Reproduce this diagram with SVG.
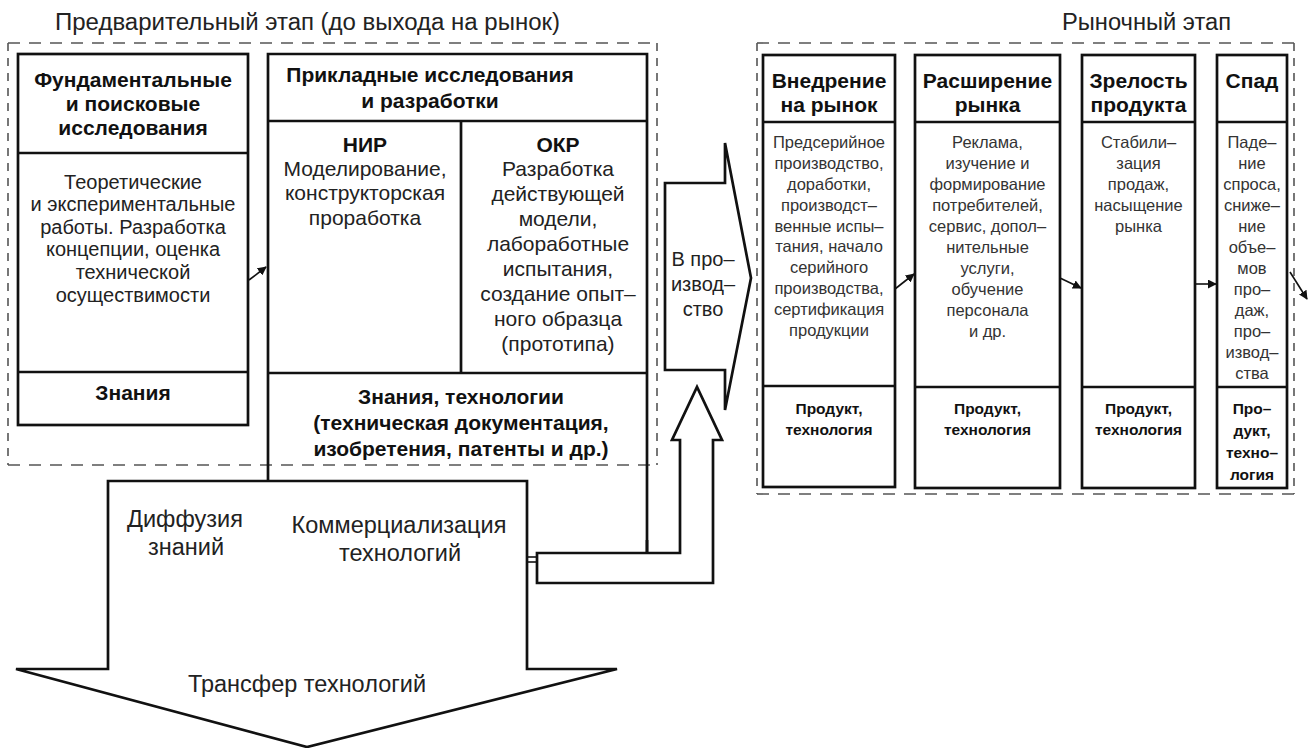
<svg xmlns="http://www.w3.org/2000/svg" width="1313" height="748" viewBox="0 0 1313 748">
<defs>
<style>
text{font-family:"Liberation Sans",Arial,sans-serif;fill:#111;text-anchor:middle}
.ttl{font-size:23px;text-anchor:start;fill:#222}
.hdr{font-size:21px;font-weight:bold}
.bA{font-size:20px;fill:#222}
.bB{font-size:21px;fill:#222}
.rb{font-size:16.5px;fill:#333}
.rbold{font-size:15.5px;font-weight:bold}
.big{font-size:23.5px;fill:#222}
.prod{font-size:20px;fill:#222}
.box{fill:none;stroke:#111;stroke-width:2.7}
.shape{fill:#fff;stroke:#111;stroke-width:2.7;stroke-linejoin:miter}
.dh{stroke:#555;stroke-width:1.6;stroke-dasharray:12 9;fill:none}
.dv{stroke:#555;stroke-width:1.6;stroke-dasharray:8 7;fill:none}
.conn{stroke:#111;stroke-width:1.6;fill:none;marker-end:url(#ah)}
</style>
<marker id="ah" viewBox="0 0 10 10" refX="9" refY="5" markerWidth="9" markerHeight="9" markerUnits="userSpaceOnUse" orient="auto">
<path d="M0,0 L10,5 L0,10 z" fill="#111"/>
</marker>
</defs>
<rect width="1313" height="748" fill="#fff"/>

<g id="stage-pre">
<text class="ttl" x="55" y="30" textLength="505" lengthAdjust="spacingAndGlyphs">Предварительный этап (до выхода на рынок)</text>
<line class="dh" x1="8" y1="43" x2="657" y2="43"/>
<line class="dh" x1="8" y1="465" x2="657" y2="465"/>
<line class="dv" x1="8" y1="43" x2="8" y2="465"/>
<line class="dv" x1="657" y1="43" x2="657" y2="465"/>
</g>

<g id="stage-market">
<text class="ttl" x="1062" y="30" textLength="169" lengthAdjust="spacingAndGlyphs">Рыночный этап</text>
<line class="dh" x1="757" y1="43" x2="1294" y2="43"/>
<line class="dh" x1="757" y1="494" x2="1294" y2="494"/>
<line class="dv" x1="757" y1="43" x2="757" y2="494"/>
<line class="dv" x1="1294" y1="43" x2="1294" y2="494"/>
</g>

<g id="node-fundamental">
<rect class="box" x="18" y="54" width="230" height="371"/>
<line class="box" x1="18" y1="153" x2="248" y2="153"/>
<line class="box" x1="18" y1="372" x2="248" y2="372"/>
<text class="hdr" x="133" y="87">Фундаментальные</text>
<text class="hdr" x="133" y="111">и поисковые</text>
<text class="hdr" x="133" y="135">исследования</text>
<text class="bA" x="133" y="189">Теоретические</text>
<text class="bA" x="133" y="211">и экспериментальные</text>
<text class="bA" x="133" y="234">работы. Разработка</text>
<text class="bA" x="133" y="256">концепции, оценка</text>
<text class="bA" x="133" y="279">технической</text>
<text class="bA" x="133" y="302">осуществимости</text>
<text class="hdr" x="133" y="400">Знания</text>
</g>

<g id="node-applied">
<path class="box" d="M268,481 V54 H647 V553"/>
<line class="box" x1="268" y1="121" x2="647" y2="121"/>
<line class="box" x1="461" y1="121" x2="461" y2="373"/>
<line class="box" x1="268" y1="373" x2="647" y2="373"/>
<text class="hdr" x="430" y="82">Прикладные исследования</text>
<text class="hdr" x="430" y="108">и разработки</text>
<text class="hdr" x="365" y="152">НИР</text>
<text class="bB" x="365" y="176">Моделирование,</text>
<text class="bB" x="365" y="200">конструкторская</text>
<text class="bB" x="365" y="225">проработка</text>
<text class="hdr" x="558" y="152">ОКР</text>
<text class="bB" x="558" y="176">Разработка</text>
<text class="bB" x="558" y="201">действующей</text>
<text class="bB" x="558" y="226">модели,</text>
<text class="bB" x="558" y="251">лабоработные</text>
<text class="bB" x="558" y="276">испытания,</text>
<text class="bB" x="558" y="301">создание опыт–</text>
<text class="bB" x="558" y="326">ного образца</text>
<text class="bB" x="558" y="351">(прототипа)</text>
<text class="hdr" x="461" y="404">Знания, технологии</text>
<text class="hdr" x="461" y="430">(техническая документация,</text>
<text class="hdr" x="461" y="456">изобретения, патенты и др.)</text>
</g>

<g id="node-transfer">
<path class="shape" d="M108,481 H527 V669 H617 L307,747 L16,669 H108 Z"/>
<text class="big" x="185" y="527">Диффузия</text>
<text class="big" x="186" y="555">знаний</text>
<text class="big" x="399" y="533">Коммерциализация</text>
<text class="big" x="400" y="561">технологий</text>
<text class="big" x="307" y="692">Трансфер технологий</text>
</g>

<g id="node-production">
<path class="shape" d="M665,183 H725 V143 L751,278 L725,410 V370 H665 Z"/>
<text class="prod" x="703" y="266">В про–</text>
<text class="prod" x="703" y="291">извод–</text>
<text class="prod" x="703" y="316">ство</text>
</g>

<g id="node-intro">
<rect class="box" x="763" y="55" width="132" height="432"/>
<line class="box" x1="763" y1="122" x2="895" y2="122"/>
<line class="box" x1="763" y1="386" x2="895" y2="386"/>
<text class="hdr" x="829" y="88">Внедрение</text>
<text class="hdr" x="829" y="112">на рынок</text>
<text class="rb" x="829" y="148">Предсерийное</text>
<text class="rb" x="829" y="169">производство,</text>
<text class="rb" x="829" y="190">доработки,</text>
<text class="rb" x="829" y="211">производст–</text>
<text class="rb" x="829" y="232">венные испы–</text>
<text class="rb" x="829" y="252">тания, начало</text>
<text class="rb" x="829" y="273">серийного</text>
<text class="rb" x="829" y="294">производства,</text>
<text class="rb" x="829" y="315">сертификация</text>
<text class="rb" x="829" y="336">продукции</text>
<text class="rbold" x="829" y="414">Продукт,</text>
<text class="rbold" x="829" y="435">технология</text>
</g>

<g id="node-expansion">
<rect class="box" x="915" y="55" width="145" height="433"/>
<line class="box" x1="915" y1="122" x2="1060" y2="122"/>
<line class="box" x1="915" y1="387" x2="1060" y2="387"/>
<text class="hdr" x="987.5" y="88">Расширение</text>
<text class="hdr" x="987.5" y="112">рынка</text>
<text class="rb" x="987.5" y="148">Реклама,</text>
<text class="rb" x="987.5" y="169">изучение и</text>
<text class="rb" x="987.5" y="190">формирование</text>
<text class="rb" x="987.5" y="211">потребителей,</text>
<text class="rb" x="987.5" y="232">сервис, допол–</text>
<text class="rb" x="987.5" y="253">нительные</text>
<text class="rb" x="987.5" y="274">услуги,</text>
<text class="rb" x="987.5" y="295">обучение</text>
<text class="rb" x="987.5" y="316">персонала</text>
<text class="rb" x="987.5" y="337">и др.</text>
<text class="rbold" x="987.5" y="414">Продукт,</text>
<text class="rbold" x="987.5" y="435">технология</text>
</g>

<g id="node-maturity">
<rect class="box" x="1082" y="55" width="113" height="433"/>
<line class="box" x1="1082" y1="122" x2="1195" y2="122"/>
<line class="box" x1="1082" y1="387" x2="1195" y2="387"/>
<text class="hdr" x="1138.5" y="88">Зрелость</text>
<text class="hdr" x="1138.5" y="112">продукта</text>
<text class="rb" x="1138.5" y="148">Стабили–</text>
<text class="rb" x="1138.5" y="169">зация</text>
<text class="rb" x="1138.5" y="190">продаж,</text>
<text class="rb" x="1138.5" y="211">насыщение</text>
<text class="rb" x="1138.5" y="232">рынка</text>
<text class="rbold" x="1138.5" y="414">Продукт,</text>
<text class="rbold" x="1138.5" y="435">технология</text>
</g>

<g id="node-decline">
<rect class="box" x="1217" y="55" width="70" height="433"/>
<line class="box" x1="1217" y1="122" x2="1287" y2="122"/>
<line class="box" x1="1217" y1="387" x2="1287" y2="387"/>
<text class="hdr" x="1252" y="88">Спад</text>
<text class="rb" x="1252" y="148">Паде–</text>
<text class="rb" x="1252" y="169">ние</text>
<text class="rb" x="1252" y="190">спроса,</text>
<text class="rb" x="1252" y="211">сниже–</text>
<text class="rb" x="1252" y="232">ние</text>
<text class="rb" x="1252" y="253">объе–</text>
<text class="rb" x="1252" y="274">мов</text>
<text class="rb" x="1252" y="295">про–</text>
<text class="rb" x="1252" y="316">даж,</text>
<text class="rb" x="1252" y="337">про–</text>
<text class="rb" x="1252" y="358">извод–</text>
<text class="rb" x="1252" y="379">ства</text>
<text class="rbold" x="1252" y="414">Про–</text>
<text class="rbold" x="1252" y="436">дукт,</text>
<text class="rbold" x="1252" y="458">техно–</text>
<text class="rbold" x="1252" y="480">логия</text>
</g>

<g id="connectors">
<line class="conn" x1="249" y1="280" x2="266" y2="267"/>
<line class="conn" x1="895" y1="289" x2="914" y2="274"/>
<line class="conn" x1="1060" y1="278" x2="1081" y2="288"/>
<line class="conn" x1="1195" y1="284" x2="1216" y2="284"/>
<line class="conn" x1="1290" y1="272" x2="1307" y2="299"/>
<line x1="527" y1="557" x2="537" y2="557" stroke="#111" stroke-width="1.6"/>
<line x1="527" y1="562" x2="537" y2="562" stroke="#111" stroke-width="1.6"/>
<path class="shape" d="M537,553 H680 V440 H672 L697,387 L722,440 H713 V583 H537 Z"/>
<line class="box" x1="647" y1="540" x2="647" y2="553"/>
</g>
</svg>
